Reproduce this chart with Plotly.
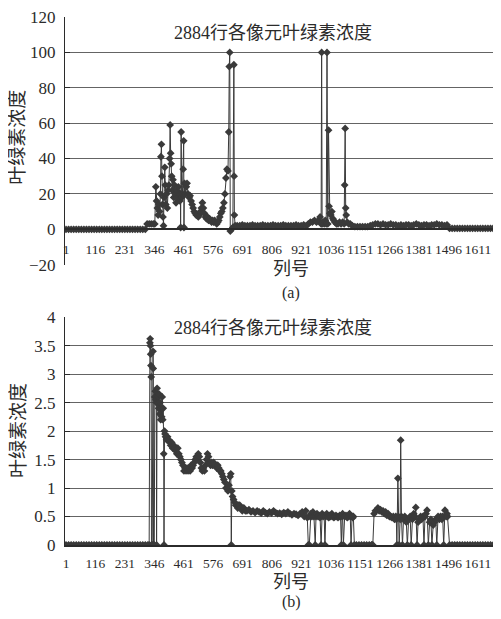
import plotly.graph_objects as go

# ---------------- data (a) ----------------
col_a = [1, 11, 21, 31, 41, 51, 61, 71, 81, 91, 101, 111, 121, 131, 141, 151, 161, 171, 181, 191,
         201, 211, 221, 231, 241, 251, 261, 271, 281, 291, 301, 311,
         318, 326, 334, 342, 348, 352, 355, 358, 361, 364, 367, 370, 372, 374, 376, 378, 380, 382,
         384, 387, 389, 391, 394, 397, 400, 403, 406, 408, 410, 412, 414, 416, 419, 422, 425, 428,
         431, 434, 437, 440, 443, 446, 448, 449, 451, 453, 456, 459, 461, 462, 464, 467, 471, 474,
         478, 482, 486, 490, 494, 498, 502, 506, 510, 514, 518, 522, 526, 530, 534, 538, 542, 546,
         550, 554, 558, 562, 566, 570, 574, 578, 582, 586, 590, 594, 598, 602, 606, 610, 614, 618,
         622, 626, 630, 634, 637, 639, 641, 643, 648, 653, 657, 658, 659, 662, 670, 680, 690, 700,
         710, 720, 730, 740, 750, 760, 770, 780, 790, 800, 810, 820, 830, 840, 850, 860, 870, 880,
         890, 900, 910, 920, 930, 940, 948, 956, 964, 972, 980, 988, 994, 998, 1000, 1002, 1006,
         1010, 1014, 1018, 1021, 1024, 1027, 1029, 1032, 1036, 1040, 1044, 1048, 1052, 1058, 1064,
         1070, 1076, 1082, 1088, 1090, 1092, 1094, 1096, 1100, 1106, 1112, 1120, 1130, 1140, 1150,
         1160, 1170, 1180, 1190, 1200, 1210, 1220, 1230, 1240, 1250, 1260, 1270, 1280, 1290, 1300,
         1310, 1320, 1330, 1340, 1350, 1360, 1370, 1380, 1390, 1400, 1410, 1420, 1430, 1440, 1450,
         1460, 1470, 1480, 1490, 1500, 1510, 1520, 1530, 1540, 1550, 1560, 1570, 1580, 1590, 1600,
         1610, 1620, 1630, 1640, 1650, 1660, 1670, 1680, 1690, 1700]
chl_a = [0, 0, 0, 0, 0, 0, 0, 0, 0, 0, 0, 0, 0, 0, 0, 0, 0, 0, 0, 0,
         0, 0, 0, 0, 0, 0, 0, 0, 0, 0, 0, 0,
         3, 3, 3, 3, 3, 24, 16, 12, 8, 14, 10, 20, 41, 48, 30, 14, 7, 2,
         18, 35, 25, 14, 20, 12, 22, 25, 40, 59, 43, 37, 30, 22, 28, 18, 25, 20,
         15, 22, 18, 24, 20, 16, 20, 1, 55, 18, 20, 34, 50, 1, 26, 20, 24, 26,
         20, 18, 19, 16, 14, 12, 10, 9, 8, 8, 7, 8, 10, 12, 15, 12, 9, 7,
         6, 7, 5, 6, 5, 4, 5, 4, 5, 4, 3, 4, 5, 7, 9, 10, 12, 15,
         20, 29, 34, 33, 55, 92, 100, -1, 0, 1, 93, 30, 8, 2, 2, 2, 2.5, 2,
         2, 2, 2.5, 2, 2, 2, 2.5, 2, 2, 2, 2.5, 2, 2, 2, 2.5, 2, 2, 2,
         2, 2.5, 2, 2, 2.5, 2, 3, 4, 4, 5, 4, 5, 7, 3, 100, 3, 4,
         3, 5, 3, 100, 3, 56, 13, 9, 8, 10, 6, 5, 4, 3, 3,
         4, 3, 4, 3, 25, 57, 12, 8, 4, 3, 3, 2, 1.5, 1.5, 1.5,
         1.5, 1.5, 1.5, 2, 2.5, 3, 3, 2.5, 3, 2.5, 2.5, 3, 2.5, 2.5, 2,
         2.5, 2, 2.5, 2.5, 2, 2.5, 3, 2.5, 2, 2.5, 2.5, 2, 2.5, 2.5, 3,
         2.5, 2.5, 2, 2.5, 0.5, 0.5, 0.5, 0.5, 0.5, 0.5, 0.5, 0.5, 0.5, 0.5, 0.5,
         0.5, 0.5, 0.5, 0.5, 0.5, 0.5, 0.5, 0.5, 0.5, 0.5]

# ---------------- data (b) ----------------
col_b = [1, 11, 21, 31, 41, 51, 61, 71, 81, 91, 101, 111, 121, 131, 141, 151, 161, 171, 181, 191,
         201, 211, 221, 231, 241, 251, 261, 271, 281, 291, 301, 311, 321,
         326, 329, 330, 331, 332, 333, 334, 335, 338, 341, 342, 343, 346, 348, 350, 352, 354, 355,
         357, 359, 361, 363, 365, 367, 369, 371, 373, 375, 377, 379, 381, 383, 384, 386, 388, 390,
         394, 398, 402, 406, 410, 414, 418, 422, 426, 430, 434, 438, 442, 446, 450, 454, 458, 462,
         466, 470, 474, 478, 482, 486, 490, 494, 498, 502, 506, 510, 514, 518, 522, 526, 530, 534,
         538, 542, 546, 550, 554, 558, 562, 566, 570, 574, 578, 582, 586, 590, 594, 598, 602, 606,
         610, 614, 618, 622, 626, 630, 634, 638, 642, 645, 647, 649, 652, 656, 660, 664, 668, 672,
         676, 680, 684, 690, 696, 702, 708, 716, 724, 732, 740, 748, 756, 764, 772, 780, 788, 796,
         804, 812, 820, 828, 836, 844, 852, 860, 868, 876, 884, 892, 900, 908, 916, 924, 932, 938,
         944, 948, 952, 955, 958, 962, 966, 970, 975, 978, 982, 986, 990, 994, 998, 1002, 1006,
         1010, 1013, 1016, 1020, 1024, 1028, 1032, 1036, 1040, 1044, 1048, 1052, 1056, 1060, 1064,
         1068, 1071, 1074, 1077, 1080, 1082, 1085, 1090, 1095, 1100, 1105, 1109, 1112, 1115, 1119,
         1122, 1124, 1128, 1136, 1146, 1156, 1166, 1176, 1186, 1195, 1197, 1200, 1205, 1210, 1216,
         1220, 1225, 1230, 1235, 1240, 1245, 1250, 1255, 1260, 1265, 1270, 1275, 1280, 1285, 1290,
         1292, 1294, 1298, 1300, 1303, 1307, 1309, 1312, 1316, 1320, 1325, 1331, 1335, 1340, 1346,
         1350, 1355, 1360, 1365, 1368, 1373, 1377, 1382, 1387, 1391, 1396, 1400, 1404, 1408, 1412,
         1417, 1422, 1427, 1431, 1436, 1441, 1446, 1450, 1455, 1460, 1465, 1470, 1473, 1477, 1482,
         1487, 1490, 1492, 1500, 1510, 1520, 1530, 1540, 1550, 1560, 1570, 1580, 1590, 1600, 1610,
         1620, 1630, 1640, 1650, 1660, 1670, 1680, 1690, 1700]
chl_b = [0, 0, 0, 0, 0, 0, 0, 0, 0, 0, 0, 0, 0, 0, 0, 0, 0, 0, 0, 0,
         0, 0, 0, 0, 0, 0, 0, 0, 0, 0, 0, 0, 0,
         0, 3.55, 3.62, 3.5, 3.35, 3.15, 2.95, 0, 0, 3.4, 3.1, 0, 0, 2.6, 2.7, 2.55, 2.5, 0,
         2.75, 2.5, 2.6, 2.4, 2.65, 2.3, 2.5, 2.2, 2.4, 2.25, 2.6, 2.2, 2.4, 1.6, 0, 2.0, 1.95, 1.9,
         1.85, 1.9, 1.85, 1.8, 1.75, 1.8, 1.7, 1.75, 1.7, 1.65, 1.6, 1.7, 1.6, 1.55, 1.5, 1.45, 1.4, 1.3,
         1.35, 1.3, 1.35, 1.3, 1.35, 1.3, 1.4, 1.35, 1.4, 1.45, 1.5, 1.55, 1.5, 1.6, 1.55, 1.45, 1.35, 1.3,
         1.35, 1.3, 1.4, 1.5, 1.6, 1.55, 1.45, 1.4, 1.45, 1.4, 1.45, 1.4, 1.4, 1.35, 1.4, 1.35, 1.3, 1.3,
         1.25, 1.2, 1.15, 1.1, 1.0, 1.0, 0.95, 1.05, 1.2, 1.25, 0, 0.95, 0.85, 0.8, 0.75, 0.7, 0.7, 0.65,
         0.7, 0.7, 0.65, 0.6, 0.65, 0.6, 0.6, 0.62, 0.58, 0.6, 0.57, 0.6, 0.58, 0.56, 0.6, 0.57, 0.55, 0.58,
         0.56, 0.6, 0.57, 0.55, 0.56, 0.54, 0.57, 0.55, 0.58, 0.55, 0.53, 0.55, 0.54, 0.52, 0.55, 0.58, 0.5, 0.6,
         0.48, 0, 0, 0.5, 0.55, 0.5, 0.58, 0.5, 0, 0.5, 0.55, 0.5, 0.52, 0.48, 0, 0.55, 0.5,
         0.52, 0, 0.5, 0.55, 0.5, 0.48, 0.52, 0.5, 0.55, 0.5, 0.48, 0.5, 0.52, 0.5, 0.48, 0.5,
         0.52, 0.5, 0, 0.5, 0.55, 0, 0.5, 0.52, 0.48, 0.5, 0.55, 0.5, 0, 0.5, 0.48,
         0.5, 0, 0, 0, 0, 0, 0, 0, 0, 0, 0, 0.55, 0.6, 0.62, 0.65,
         0.6, 0.62, 0.58, 0.6, 0.55, 0.58, 0.52, 0.55, 0.5, 0.5, 0.48, 0.5, 0.45, 0.5, 0.45,
         0, 1.17, 0.5, 0, 0.45, 1.84, 0.5, 0, 0.45, 0.5, 0.4, 0, 0.45, 0.5, 0,
         0.45, 0.55, 0.5, 0.66, 0, 0.4, 0.45, 0.5, 0.45, 0.5, 0, 0.5, 0.55, 0.61, 0,
         0.4, 0.45, 0, 0.35, 0.4, 0.45, 0, 0.5, 0.45, 0.5, 0.45, 0.5, 0, 0.61, 0.5,
         0.55, 0.5, 0, 0, 0, 0, 0, 0, 0, 0, 0, 0, 0, 0, 0,
         0, 0, 0, 0, 0, 0, 0, 0, 0]

x_ticks = [1, 116, 231, 346, 461, 576, 691, 806, 921, 1036, 1151, 1266, 1381, 1496, 1611]
y_ticks_a = [-20, 0, 20, 40, 60, 80, 100, 120]
y_ticks_b = [0, 0.5, 1, 1.5, 2, 2.5, 3, 3.5, 4]
y_ticktext_b = ['0', '0.5', '1', '1.5', '2', '2.5', '3', '3.5', '4']
title_text = '2884行各像元叶绿素浓度'
x_title = '列号'
y_title = '叶绿素浓度'

# ---------------- style / layout ----------------
OFF = 8                      # page body margin
W, H = 501 - OFF, 619 - 2 * OFF
PLOT_L, PLOT_R, PLOT_T, PLOT_B = 65, 501, 12, 545   # in screenshot pixels
ML = PLOT_L - OFF
MR = 0
MT = PLOT_T - OFF
MB = H - (PLOT_B - OFF)
PW, PH = W - ML - MR, H - MT - MB
NUM_FONT = 'Liberation Serif'
FONT = 'Liberation Serif, Noto Sans CJK SC'
INK = '#2b2b2b'
MARK = '#3a3a3a'
GRID = '#646464'


def px_x(px):
    return (px - PLOT_L) / PW


def px_y(py):
    return (PLOT_B - py) / PH


fig = go.Figure()
trace_style = dict(mode='lines+markers',
                   line=dict(color=MARK, width=1),
                   marker=dict(symbol='diamond', size=6, color=MARK),
                   showlegend=False, hoverinfo='skip')
fig.add_trace(go.Scatter(x=col_a, y=chl_a, xaxis='x', yaxis='y', **trace_style))
fig.add_trace(go.Scatter(x=col_b, y=chl_b, xaxis='x2', yaxis='y2', **trace_style))

x_range = [-2.9, 1701]
common_x = dict(range=x_range, tickmode='array', tickvals=x_ticks, tickangle=0,
                showgrid=False, zeroline=False, showline=True, linecolor=INK, linewidth=2,
                ticks='', tickfont=dict(family=NUM_FONT, size=13.5, color=INK),
                ticklabeloverflow='allow')
common_y = dict(showgrid=True, gridcolor=GRID, gridwidth=1.2, zeroline=False,
                showline=True, linecolor=INK, linewidth=1.2, ticks='inside', ticklen=5,
                tickcolor=INK, tickfont=dict(family=NUM_FONT, size=17, color=INK),
                ticklabelstandoff=5, ticklabeloverflow='allow')

top_dom = [px_y(262), 1.0]
bot_dom = [0.0, px_y(315)]

fig.update_layout(
    width=W, height=H,
    margin=dict(l=ML, r=MR, t=MT, b=MB, pad=0),
    paper_bgcolor='white', plot_bgcolor='white',
    font=dict(family=FONT, color=INK),
    xaxis=dict(domain=[0, 1], anchor='free', position=px_y(226), ticklabelstandoff=8, **common_x),
    yaxis=dict(domain=top_dom, anchor='x', range=[-20, 120], tickmode='array',
               tickvals=y_ticks_a, **common_y),
    xaxis2=dict(domain=[0, 1], anchor='y2', ticklabelstandoff=5, **common_x),
    yaxis2=dict(domain=bot_dom, anchor='x2', range=[0, 4], tickmode='array',
                tickvals=y_ticks_b, ticktext=y_ticktext_b, **common_y),
)

ann = []
for cx, cy, txt, size in [
    (273, 28, title_text, 18), (273, 326, title_text, 18),
    (291, 266, x_title, 18), (291, 582, x_title, 18),
    (291, 291, '(a)', 16), (291, 603, '(b)', 16),
]:
    ann.append(dict(x=px_x(cx), y=px_y(cy), xref='paper', yref='paper', text=txt,
                    showarrow=False, xanchor='center', yanchor='middle',
                    font=dict(family=FONT, size=size, color=INK)))
for cy in (134, 430):
    ann.append(dict(x=px_x(18), y=px_y(cy), xref='paper', yref='paper', text=y_title,
                    showarrow=False, textangle=-90, xanchor='center', yanchor='middle',
                    font=dict(family=FONT, size=19, color=INK)))
fig.update_layout(annotations=ann)

fig.write_html('out.html')
